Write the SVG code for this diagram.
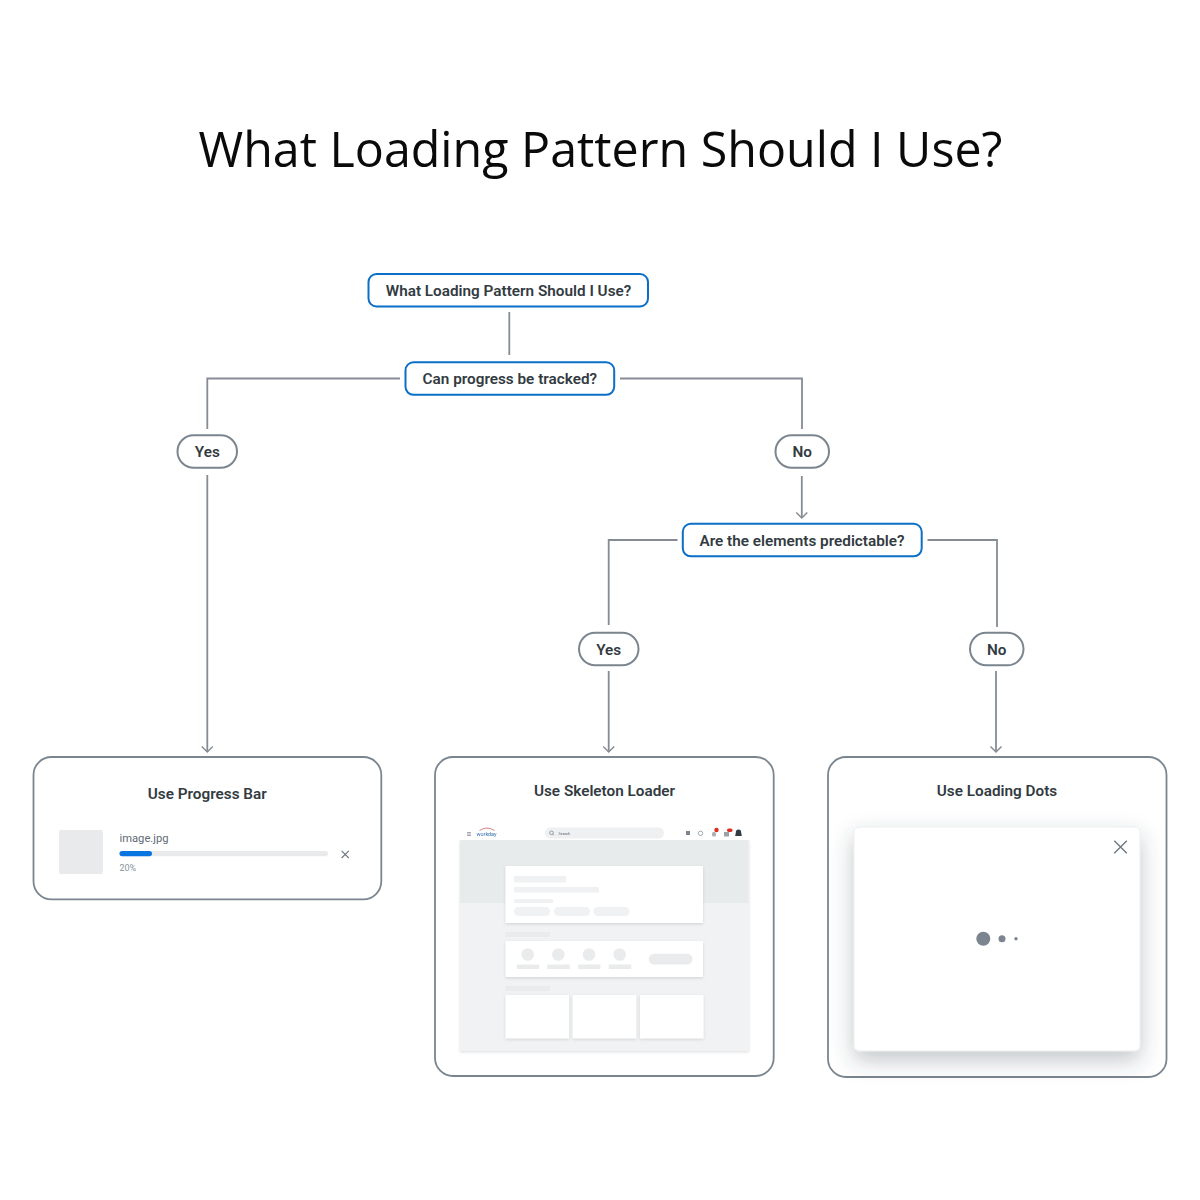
<svg xmlns="http://www.w3.org/2000/svg" width="1200" height="1200" viewBox="0 0 1200 1200">
<style>
text{font-family:Roboto,"Liberation Sans",sans-serif}
.title{font-family:"Open Sans","Liberation Sans",sans-serif;font-size:49px;fill:#0a0a0a}
.lbl{font-size:15.3px;font-weight:600;fill:#333b42;text-anchor:middle}
.q{fill:#fff;stroke:#0b6fc8;stroke-width:2}
.p{fill:#fff;stroke:#7b858f;stroke-width:2}
.card{fill:#fff;stroke:#7b858f;stroke-width:1.8}
.c{fill:none;stroke:#858c94;stroke-width:1.8}
.sk{fill:#eff1f2}
.sd{fill:#e9ebec}
.w{fill:#fff;filter:url(#s1)}
.x{fill:none;stroke:#6e7780;stroke-width:1.1}
</style>
<defs>
<marker id="a" markerUnits="userSpaceOnUse" markerWidth="14" markerHeight="12" refX="12.500" refY="6" orient="auto"><path d="M7 0.500 L12.500 6 L7 11.500" fill="none" stroke="#858c94" stroke-width="1.500"/></marker>
<filter id="s1" x="-10%" y="-20%" width="120%" height="140%"><feDropShadow dx="0" dy="1.200" stdDeviation="1.500" flood-color="#000" flood-opacity=".13"/></filter>
<filter id="s2" x="-20%" y="-20%" width="140%" height="140%"><feDropShadow dx="0" dy="9" stdDeviation="11" flood-color="#3a4550" flood-opacity=".3"/></filter>
<filter id="b" x="-5%" y="-5%" width="110%" height="110%"><feGaussianBlur stdDeviation=".4"/></filter>
</defs>
<rect width="1200" height="1200" fill="#fff"/>
<text id="title" class="title" x="600.500" y="166.500" text-anchor="middle" textLength="804" lengthAdjust="spacingAndGlyphs">What Loading Pattern Should I Use?</text>

<g id="connectors">
<path class="c" d="M509.300 312V355"/>
<path class="c" d="M400 378.500H207.300V429"/>
<path class="c" d="M620 378.500H802V429"/>
<path class="c" d="M207.300 475V752" marker-end="url(#a)"/>
<path class="c" d="M801.800 476V518" marker-end="url(#a)"/>
<path class="c" d="M677.500 540H608.700V625"/>
<path class="c" d="M927.500 540H997V627"/>
<path class="c" d="M608.700 671V752" marker-end="url(#a)"/>
<path class="c" d="M996 671V752" marker-end="url(#a)"/>
</g>

<g id="q1"><rect class="q" x="368.500" y="274" width="279.500" height="32.500" rx="8"/><text class="lbl" x="508.500" y="295.700">What Loading Pattern Should I Use?</text></g>
<g id="q2"><rect class="q" x="405.500" y="362.300" width="208.700" height="32.500" rx="8"/><text class="lbl" x="509.800" y="384">Can progress be tracked?</text></g>
<g id="q3"><rect class="q" x="682.800" y="523.800" width="238.900" height="32.500" rx="8"/><text class="lbl" x="802" y="545.500">Are the elements predictable?</text></g>
<g id="yes1"><rect class="p" x="177.500" y="435.300" width="59.500" height="32.500" rx="16.200"/><text class="lbl" x="207.300" y="457">Yes</text></g>
<g id="no1"><rect class="p" x="775.500" y="435.300" width="53.500" height="32.500" rx="16.200"/><text class="lbl" x="802.200" y="457">No</text></g>
<g id="yes2"><rect class="p" x="579" y="632.800" width="59.500" height="32.500" rx="16.200"/><text class="lbl" x="608.700" y="654.500">Yes</text></g>
<g id="no2"><rect class="p" x="970" y="632.800" width="53.500" height="32.500" rx="16.200"/><text class="lbl" x="996.700" y="654.500">No</text></g>

<g id="progress-card">
<rect class="card" x="33.500" y="757" width="347.800" height="142.300" rx="18"/>
<text class="lbl" x="207.300" y="798.800">Use Progress Bar</text>
<rect x="59" y="830" width="44" height="44" rx="2" fill="#e8eaeb"/>
<text x="119.500" y="842.300" font-size="11.200" fill="#5e6a75">image.jpg</text>
<rect x="119.500" y="851" width="208.500" height="5.200" rx="2.600" fill="#e8eaeb"/>
<rect x="119.500" y="851" width="32.500" height="5.200" rx="2.600" fill="#0875e1"/>
<text x="119.500" y="870.500" font-size="9" fill="#8a939b">20%</text>
<path class="x" d="M341.600 850.800L348.800 858M348.800 850.800L341.600 858"/>
</g>

<g id="skeleton-card">
<rect class="card" x="435" y="757" width="338.700" height="319" rx="18"/>
<text class="lbl" x="604.500" y="796">Use Skeleton Loader</text>
<g filter="url(#b)">
<rect x="460" y="840" width="289" height="211" fill="#f1f2f3" filter="url(#s1)"/>
<rect x="460" y="826" width="288.500" height="14" fill="#fff"/>
<rect x="460" y="840" width="288.500" height="63" fill="#e8ebec"/>
<path d="M467 832.500h4M467 834h4M467 835.500h4" stroke="#7b858f" stroke-width=".7"/>
<path d="M479.500 830.500Q487 825.500 494.500 830.500" fill="none" stroke="#c8504a" stroke-width=".7"/>
<text x="486.500" y="836" font-size="5.400" fill="#2f6cab" text-anchor="middle">workday</text>
<rect x="545" y="827.500" width="119" height="11" rx="5.500" fill="#eff0f1"/>
<circle cx="551.500" cy="832.800" r="1.800" fill="none" stroke="#5e6a75" stroke-width=".6"/>
<path d="M552.800 834.100L554 835.300" stroke="#5e6a75" stroke-width=".6"/>
<text x="558.500" y="835" font-size="3.800" fill="#5e6a75">Search</text>
<rect x="686" y="831" width="4" height="4" fill="#7b858f"/>
<circle cx="700.500" cy="833.300" r="2.200" fill="none" stroke="#7b858f" stroke-width=".7"/>
<rect x="712" y="832" width="4" height="4.500" rx="1.500" fill="#aab0b5"/>
<circle cx="716.500" cy="830" r="2.200" fill="#de2e21"/>
<rect x="724" y="832" width="5" height="4.500" fill="#9aa2a8"/>
<rect x="727" y="828.500" width="5.500" height="3.500" rx="1.700" fill="#de2e21"/>
<path d="M738.500 829.500q2.700 0 2.700 3.300l.6 3.200h-6.600l.6-3.200q0-3.300 2.700-3.300z" fill="#333b42"/>
<rect class="w" x="505.500" y="866" width="197.500" height="57"/>
<rect class="sk" x="514" y="876" width="52" height="6.500" rx="1"/>
<rect class="sk" x="514" y="887" width="85" height="5.500" rx="1"/>
<rect class="sk" x="514" y="899" width="39" height="4" rx="1"/>
<rect class="sk" x="514" y="907" width="36" height="9" rx="4.500"/>
<rect class="sk" x="554" y="907" width="36" height="9" rx="4.500"/>
<rect class="sk" x="593.500" y="907" width="36" height="9" rx="4.500"/>
<rect class="sd" x="505.500" y="932" width="44.500" height="5"/>
<rect class="w" x="505.500" y="941" width="197.500" height="36"/>
<circle class="sd" cx="527.700" cy="954.500" r="6.300"/>
<circle class="sd" cx="558.300" cy="954.500" r="6.300"/>
<circle class="sd" cx="589" cy="954.500" r="6.300"/>
<circle class="sd" cx="619.700" cy="954.500" r="6.300"/>
<rect class="sd" x="516.700" y="964.500" width="22.500" height="4.500"/>
<rect class="sd" x="547.300" y="964.500" width="22.500" height="4.500"/>
<rect class="sd" x="578" y="964.500" width="22.500" height="4.500"/>
<rect class="sd" x="608.700" y="964.500" width="22.500" height="4.500"/>
<rect class="sd" x="648.700" y="953.700" width="43.800" height="10.800" rx="5.400"/>
<rect class="sd" x="505.500" y="986" width="44.500" height="5"/>
<rect class="w" x="505.500" y="995" width="63.500" height="43.300"/>
<rect class="w" x="572.700" y="995" width="63.500" height="43.300"/>
<rect class="w" x="640" y="995" width="63.500" height="43.300"/>
</g>
</g>

<g id="dots-card">
<rect class="card" x="828" y="757" width="338.500" height="320" rx="18"/>
<text class="lbl" x="997" y="796">Use Loading Dots</text>
<rect x="854" y="827" width="286" height="224" rx="5" fill="#fff" stroke="#e6e8ea" stroke-width=".8" filter="url(#s2)"/>
<path d="M1114.300 840.800L1126.800 853.300M1126.800 840.800L1114.300 853.300" fill="none" stroke="#6e7780" stroke-width="1.400"/>
<circle cx="983.300" cy="938.800" r="7" fill="#7b858f"/>
<circle cx="1002" cy="938.800" r="3.500" fill="#7b858f"/>
<circle cx="1016" cy="938.800" r="1.700" fill="#7b858f"/>
</g>
</svg>
